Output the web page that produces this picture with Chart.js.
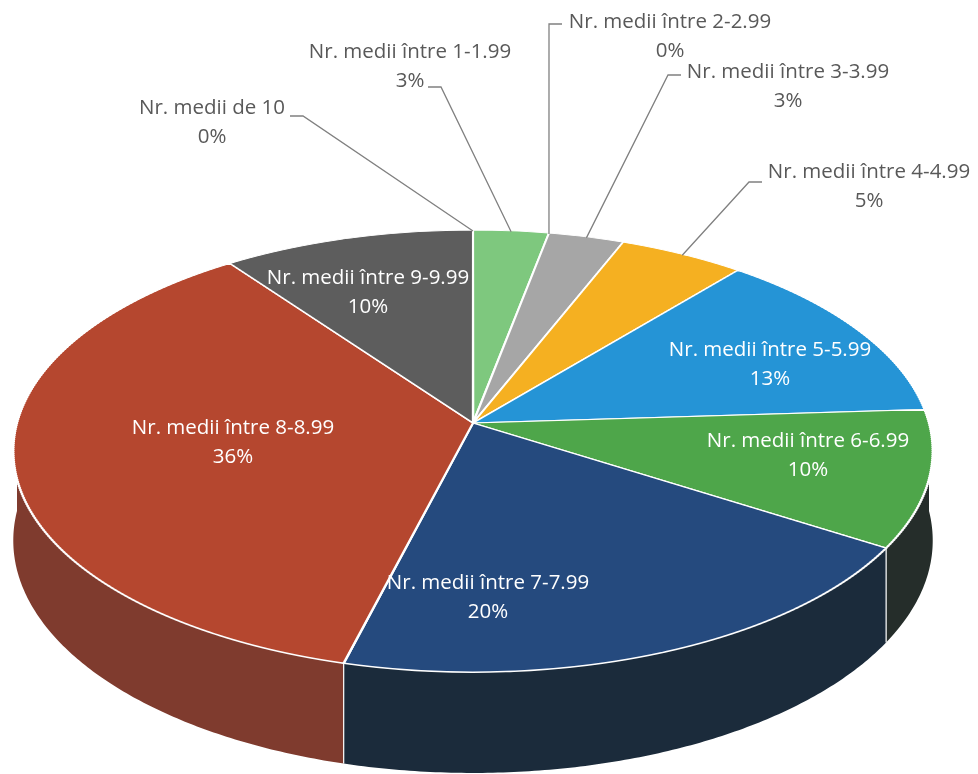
<!doctype html>
<html lang="ro">
<head>
<meta charset="UTF-8">
<title>Medii</title>
<style>
    * { margin: 0; padding: 0; box-sizing: border-box; }
    body { background: #fff; }
    #wrap { width: 978px; height: 774px; }
</style>
</head>
<body>
<div id="wrap"><canvas id="myChart" width="978" height="774"></canvas></div>

<script src="https://cdn.jsdelivr.net/npm/chart.js"></script>
<script>
    const categories = [
        'Nr. medii de 10',
        'Nr. medii între 1-1.99',
        'Nr. medii între 2-2.99',
        'Nr. medii între 3-3.99',
        'Nr. medii între 4-4.99',
        'Nr. medii între 5-5.99',
        'Nr. medii între 6-6.99',
        'Nr. medii între 7-7.99',
        'Nr. medii între 8-8.99',
        'Nr. medii între 9-9.99'
    ];
    const percents = [0, 3, 0, 3, 5, 13, 10, 20, 36, 10];

    const topColors  = ['#9c7b22', '#7ec87e', '#8fbf8f', '#a6a6a6', '#f5b021', '#2594d6', '#4ea64a', '#254a7e', '#b5472f', '#5d5d5d'];
    const sideColors = ['#5c4814', '#46704a', '#506b50', '#6a6a6a', '#8a6414', '#1c4e72', '#252d2a', '#1b2b3b', '#7f3b2e', '#383838'];

    // where Excel put the labels (center of text block); lx/ly = start of the leader
    const labelSpots = [
        { x: 212, y: 108, out: true, lx: 290, ly: 116, dir: 1 },
        { x: 410, y: 52,  out: true, lx: 428, ly: 87,  dir: 1 },
        { x: 670, y: 22,  out: true, lx: 562, ly: 24,  dir: -1 },
        { x: 788, y: 72,  out: true, lx: 681, ly: 75,  dir: -1 },
        { x: 869, y: 172, out: true, lx: 762, ly: 182, dir: -1 },
        { x: 770, y: 350 },
        { x: 808, y: 441 },
        { x: 488, y: 583 },
        { x: 233, y: 428 },
        { x: 368, y: 278 }
    ];

    // perspective view of the disc: u,v on unit circle, v = +1 nearest to us
    function project(o, a, lift) {
        const u = Math.cos(a), v = Math.sin(a);
        const z = 1 - o.p * v;
        return { x: o.cx + o.a * u / z, y: o.cy + o.c * v / z + lift * o.depth / z };
    }

    const pie3d = {
        id: 'pie3d',
        beforeDatasetsDraw(chart, args, o) {
            const ctx = chart.ctx;
            const arcs = chart.getDatasetMeta(0).data;

            // front wall (angles 0..PI face us)
            arcs.forEach((arc, i) => {
                const a0 = Math.max(arc.startAngle, 0);
                const a1 = Math.min(arc.endAngle, Math.PI);
                if (a1 <= a0) return;
                const n = Math.max(2, Math.ceil((a1 - a0) / 0.01));
                ctx.beginPath();
                for (let k = 0; k <= n; k++) {
                    const pt = project(o, a0 + (a1 - a0) * k / n, 0);
                    k ? ctx.lineTo(pt.x, pt.y) : ctx.moveTo(pt.x, pt.y);
                }
                for (let k = n; k >= 0; k--) {
                    const pt = project(o, a0 + (a1 - a0) * k / n, 1);
                    ctx.lineTo(pt.x, pt.y);
                }
                ctx.closePath();
                ctx.fillStyle = sideColors[i];
                ctx.fill();
            });
            ctx.save();
            ctx.strokeStyle = '#ffffff';
            ctx.lineWidth = 1.2;
            arcs.forEach(arc => {
                const a = arc.endAngle;
                if (a <= 0 || a >= Math.PI) return;
                const t = project(o, a, 0), b = project(o, a, 1);
                ctx.beginPath();
                ctx.moveTo(t.x, t.y);
                ctx.lineTo(b.x, b.y);
                ctx.stroke();
            });
            ctx.restore();

            // top face: the library's arcs, drawn band by band with a local
            // affine fit of the perspective mapping
            const first = arcs[0];
            const R = first.outerRadius;
            const yTop = Math.floor(o.cy - o.c / (1 + o.p)) - 2;
            const yBot = Math.ceil(o.cy + o.c / (1 - o.p)) + 2;
            const h = 2;
            for (let y0 = yTop; y0 < yBot; y0 += h) {
                const dy = y0 + h / 2 - o.cy;
                const v = dy / (o.c + o.p * dy);
                if (v <= -1.02 || v >= 1.02) continue;
                const z = 1 - o.p * v;
                ctx.save();
                ctx.beginPath();
                ctx.rect(0, y0, chart.width, h);
                ctx.clip();
                ctx.translate(o.cx, y0 + h / 2);
                ctx.scale(o.a / (z * R), o.c / (z * z * R));
                ctx.translate(-first.x, -(first.y + v * R));
                arcs.forEach(arc => arc.draw(ctx));
                ctx.restore();
            }
            return false;
        }
    };

    const sliceLabels = {
        id: 'sliceLabels',
        afterDraw(chart) {
            const ctx = chart.ctx;
            const g = chart.options.plugins.pie3d;
            const arcs = chart.getDatasetMeta(0).data;
            ctx.save();
            ctx.font = '20.5px "Open Sans", sans-serif';
            ctx.textAlign = 'center';
            ctx.textBaseline = 'middle';
            arcs.forEach((arc, i) => {
                const s = labelSpots[i];
                if (s.out) {
                    const e = project(g, (arc.startAngle + arc.endAngle) / 2, 0);
                    ctx.strokeStyle = '#808080';
                    ctx.lineWidth = 1.3;
                    ctx.beginPath();
                    ctx.moveTo(s.lx, s.ly);
                    ctx.lineTo(s.lx + 13 * s.dir, s.ly);
                    ctx.lineTo(e.x, e.y + 1);
                    ctx.stroke();
                    ctx.fillStyle = '#595959';
                } else {
                    ctx.fillStyle = '#ffffff';
                }
                ctx.fillText(categories[i], s.x, s.y);
                ctx.fillText(percents[i] + '%', s.x, s.y + 29);
            });
            ctx.restore();
        }
    };

    const myChart = new Chart(document.getElementById('myChart'), {
        type: 'pie',
        data: {
            labels: categories,
            datasets: [{
                data: percents,
                backgroundColor: topColors,
                borderColor: '#ffffff',
                borderWidth: 2
            }]
        },
        options: {
            responsive: false,
            animation: false,
            events: [],
            plugins: {
                legend: { display: false },
                tooltip: { enabled: false },
                pie3d: { cx: 473, cy: 423, a: 456, c: 217.5, p: 0.127, depth: 88 }
            }
        },
        plugins: [pie3d, sliceLabels]
    });
</script>
</body>
</html>
